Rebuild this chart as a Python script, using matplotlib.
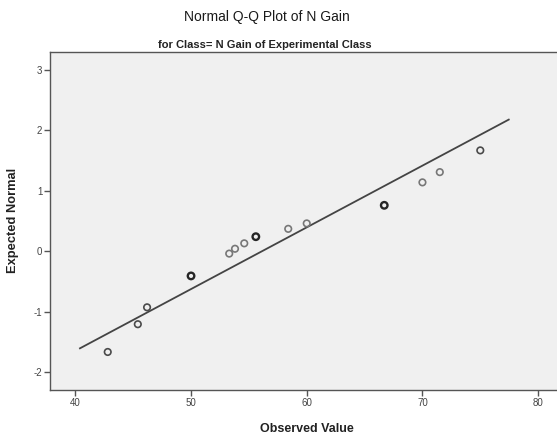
import matplotlib
matplotlib.use("Agg")
import matplotlib.pyplot as plt
import numpy as np

# Data
observed = [42.8, 45.4, 46.2, 50.0, 53.3, 53.8, 54.6, 55.6, 58.4, 60.0, 66.7, 70.0, 71.5, 75.0]
expected = [-1.67, -1.21, -0.93, -0.41, -0.04, 0.04, 0.13, 0.24, 0.37, 0.46, 0.76, 1.14, 1.31, 1.67]
overlap = [1, 1, 1, 2, 0, 0, 0, 2, 0, 0, 2, 0, 0, 1]  # 0 light, 1 normal, 2 overplotted
line_x = [40.4, 77.46]
mean_val = 56.14
sd_val = 9.78
xticks = [40, 50, 60, 70, 80]
yticks = [-2, -1, 0, 1, 2, 3]

plt.rcParams['font.family'] = ['Liberation Sans', 'DejaVu Sans']
plt.rcParams['axes.unicode_minus'] = False

fig = plt.figure(figsize=(5.57, 4.38), dpi=100)
fig.patch.set_facecolor('white')
W, H = 557, 438
axw = (W - 50) + 6
ax = fig.add_axes([50 / W, (H - 390) / H, axw / W, (390 - 52) / H])
ax.set_facecolor('#f0f0f0')
ax.set_xlim(37.81, 37.81 + axw / 11.57)
ax.set_ylim(-2.30, 3.30)

lx = np.array(line_x)
ax.plot(lx, (lx - mean_val) / sd_val, color='#444444', lw=1.3, zorder=2)

obs = np.array(observed)
exp_ = np.array(expected)
ov = np.array(overlap)
styles = {0: ('#777777', 1.2), 1: ('#4a4a4a', 1.2), 2: ('#262626', 1.7)}
for k, (c, lw) in styles.items():
    m = ov == k
    ax.scatter(obs[m], exp_[m], s=22, facecolors='none', edgecolors=c, linewidths=lw, zorder=3)

ax.set_xticks(xticks)
ax.set_yticks(yticks)
ax.tick_params(axis='both', direction='out', length=4, width=1, color='#555555',
               labelsize=7, labelcolor='#444444', pad=1.5)
for s in ['left', 'bottom', 'top']:
    ax.spines[s].set_color('#555555')
    ax.spines[s].set_linewidth(1.0)
ax.spines['right'].set_visible(False)

ax.set_xlabel('Observed Value', fontsize=9, fontweight='bold', color='#222222')
ax.set_ylabel('Expected Normal', fontsize=9.3, fontweight='bold', color='#222222')
ax.xaxis.set_label_coords((306.5 - 50) / axw, -33 / 338)
ax.yaxis.set_label_coords(-31 / axw, (390 - 220) / 338)

fig.text(267 / W, 1 - 17 / H, 'Normal Q-Q Plot of N Gain', ha='center', va='center',
         fontsize=10, color='#1a1a1a')
fig.text(265 / W, 1 - 45 / H, 'for Class= N Gain of Experimental Class', ha='center', va='center',
         fontsize=8, fontweight='bold', color='#222222',
         family=['Liberation Sans Narrow', 'Liberation Sans', 'DejaVu Sans'])

fig.savefig('out.png', dpi=100)
